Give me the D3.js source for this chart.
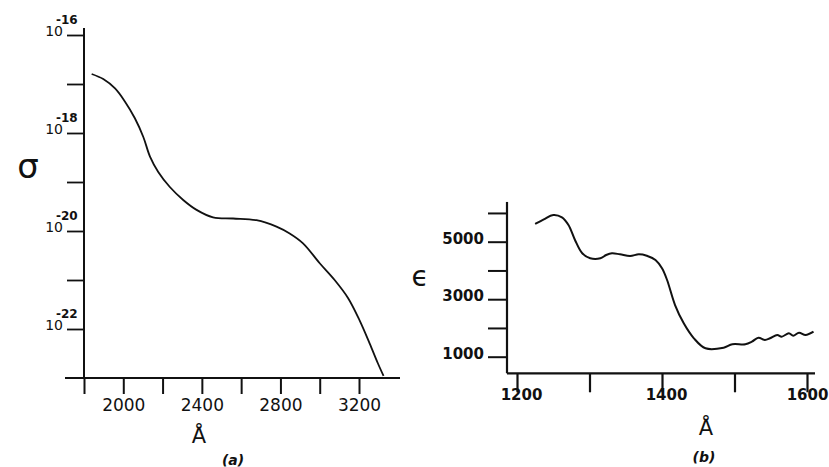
<!DOCTYPE html>
<html>
<head>
<meta charset="utf-8">
<script src="https://cdn.jsdelivr.net/npm/d3@7"></script>
<style>
  html, body { margin: 0; padding: 0; background: #fff; }
  svg { display: block; }
  text { font-family: "DejaVu Sans", sans-serif; fill: #111; }
</style>
</head>
<body>
<svg id="chart" width="829" height="467"></svg>
<script>
// (a) absorption cross section sigma (cm^2) vs wavelength (Å)
const sigmaWavelength = [1839, 1898, 1958, 2008, 2059, 2102, 2136, 2178, 2237, 2305, 2373, 2457,
                         2559, 2678, 2780, 2847, 2915, 3000, 3076, 3144, 3203, 3254, 3296, 3325];
const sigmaValues = [1.6e-17, 1.26e-17, 8.1e-18, 4.4e-18, 2.0e-18, 8.3e-19, 3.3e-19, 1.6e-19,
                     7.9e-20, 4.3e-20, 2.7e-20, 1.9e-20, 1.8e-20, 1.66e-20, 1.23e-20, 8.9e-21,
                     5.6e-21, 2.2e-21, 1.0e-21, 4.3e-22, 1.5e-22, 5.1e-23, 2.0e-23, 1.1e-23];
const sigmaTicks = [1e-16, 1e-17, 1e-18, 1e-19, 1e-20, 1e-21, 1e-22];
const sigmaTickExponents = ["-16", "", "-18", "", "-20", "", "-22"];
const lambdaTicksA = [1800, 2000, 2200, 2400, 2600, 2800, 3000, 3200];
const lambdaLabelsA = ["", "2000", "", "2400", "", "2800", "", "3200"];

// (b) molar extinction coefficient epsilon vs wavelength (Å)
const epsWavelength = [1225, 1237, 1250, 1262, 1271, 1280, 1290, 1301, 1315, 1323, 1331, 1342,
                       1356, 1368, 1379, 1391, 1400, 1407, 1418, 1430, 1444, 1460, 1485, 1497,
                       1515, 1524, 1533, 1542, 1549, 1559, 1565, 1575, 1581, 1589, 1598, 1609];
const epsValues = [5616, 5779, 5929, 5849, 5581, 5059, 4597, 4423, 4423, 4537, 4597, 4562,
                   4503, 4562, 4513, 4363, 4075, 3668, 2798, 2162, 1640, 1292, 1313, 1431,
                   1431, 1522, 1661, 1581, 1640, 1755, 1696, 1814, 1730, 1835, 1755, 1870];
const epsTicks = [1000, 2000, 3000, 4000, 5000, 6000];
const epsTickLabels = ["1000", "", "3000", "", "5000", ""];
const lambdaTicksB = [1200, 1300, 1400, 1500, 1600];
const lambdaLabelsB = ["1200", "", "1400", "", "1600"];

const svg = d3.select("#chart");
const ink = "#111";

/* ---------------- panel (a) ---------------- */
const xA = d3.scaleLinear().domain([1800, 3200]).range([84, 359]);
const yA = d3.scaleLog().domain([1e-23, 1e-16]).range([378, 35]);
const gA = svg.append("g");

// axis lines
gA.append("line").attr("x1", xA(1800) - 19).attr("x2", xA(3200) + 41)
  .attr("y1", yA(1e-23)).attr("y2", yA(1e-23))
  .attr("stroke", ink).attr("stroke-width", 2);
gA.append("line").attr("x1", xA(1800)).attr("x2", xA(1800))
  .attr("y1", yA(1e-16) - 7).attr("y2", yA(1e-23))
  .attr("stroke", ink).attr("stroke-width", 2);

// x ticks and labels
const axA = gA.append("g").attr("transform", `translate(0,${yA(1e-23)})`)
  .call(d3.axisBottom(xA).tickValues(lambdaTicksA).tickSize(16).tickPadding(4)
    .tickFormat((d, i) => lambdaLabelsA[i]));
axA.select(".domain").remove();
axA.selectAll(".tick line").attr("stroke", ink).attr("stroke-width", 2);
axA.selectAll(".tick text").attr("font-size", 17).attr("font-family", "DejaVu Sans")
  .attr("fill", ink).attr("dy", null).attr("y", 33);

// y ticks
const ayA = gA.append("g").attr("transform", `translate(${xA(1800)},0)`)
  .call(d3.axisLeft(yA).tickValues(sigmaTicks).tickSize(17).tickFormat(""));
ayA.select(".domain").remove();
ayA.selectAll(".tick line").attr("stroke", ink).attr("stroke-width", 1.8);

// power-of-ten labels
sigmaTicks.forEach((t, i) => {
  if (!sigmaTickExponents[i]) return;
  const y = yA(t);
  gA.append("text").attr("x", 63).attr("y", y + 1).attr("text-anchor", "end")
    .attr("font-size", 14).text("10");
  gA.append("text").attr("x", 56).attr("y", y - 11).attr("text-anchor", "start")
    .attr("font-size", 12).attr("font-weight", "bold").text(sigmaTickExponents[i]);
});

// curve
gA.append("path")
  .datum(sigmaWavelength.map((w, i) => [w, sigmaValues[i]]))
  .attr("fill", "none").attr("stroke", ink).attr("stroke-width", 1.8)
  .attr("d", d3.line().x(d => xA(d[0])).y(d => yA(d[1])).curve(d3.curveCatmullRom));

// axis titles
gA.append("text").attr("x", 28).attr("y", 178).attr("text-anchor", "middle")
  .attr("font-size", 34).text("σ");
gA.append("text").attr("x", 199).attr("y", 443).attr("text-anchor", "middle")
  .attr("font-size", 21).text("Å");
gA.append("text").attr("x", 233).attr("y", 465).attr("text-anchor", "middle")
  .attr("font-size", 14).attr("font-style", "italic").attr("font-weight", "bold").text("(a)");

/* ---------------- panel (b) ---------------- */
const xB = d3.scaleLinear().domain([1200, 1600]).range([517, 807]);
const yB = d3.scaleLinear().domain([1000, 5000]).range([356.7, 241.7]);
const baseB = 423;
const gB = svg.append("g");

gB.append("line").attr("x1", 507).attr("x2", xB(1600) + 8)
  .attr("y1", yB(baseB)).attr("y2", yB(baseB))
  .attr("stroke", ink).attr("stroke-width", 2.2);
gB.append("line").attr("x1", 507).attr("x2", 507)
  .attr("y1", yB(6000) - 11).attr("y2", yB(baseB))
  .attr("stroke", ink).attr("stroke-width", 2.2);

const axB = gB.append("g").attr("transform", `translate(0,${yB(baseB)})`)
  .call(d3.axisBottom(xB).tickValues(lambdaTicksB).tickSize(19).tickPadding(4)
    .tickFormat((d, i) => lambdaLabelsB[i]));
axB.select(".domain").remove();
axB.selectAll(".tick line").attr("stroke", ink).attr("stroke-width", 2.2);
axB.selectAll(".tick text").attr("font-size", 15).attr("font-weight", "bold")
  .attr("font-family", "DejaVu Sans").attr("fill", ink)
  .attr("dy", null).attr("y", 27).attr("dx", (d, i) => i === lambdaTicksB.length - 1 ? 0 : 4);

const ayB = gB.append("g").attr("transform", "translate(507,0)")
  .call(d3.axisLeft(yB).tickValues(epsTicks).tickSize(19).tickFormat(""));
ayB.select(".domain").remove();
ayB.selectAll(".tick line").attr("stroke", ink).attr("stroke-width", 2);

epsTicks.forEach((t, i) => {
  if (!epsTickLabels[i]) return;
  gB.append("text").attr("x", 484).attr("y", yB(t) + 2).attr("text-anchor", "end")
    .attr("font-size", 15).attr("font-weight", "bold").text(epsTickLabels[i]);
});

gB.append("path")
  .datum(epsWavelength.map((w, i) => [w, epsValues[i]]))
  .attr("fill", "none").attr("stroke", ink).attr("stroke-width", 2)
  .attr("d", d3.line().x(d => xB(d[0])).y(d => yB(d[1])).curve(d3.curveCatmullRom));

gB.append("text").attr("x", 420).attr("y", 286).attr("text-anchor", "middle")
  .attr("font-size", 28).text("ϵ");
gB.append("text").attr("x", 706).attr("y", 435).attr("text-anchor", "middle")
  .attr("font-size", 21).text("Å");
gB.append("text").attr("x", 704).attr("y", 462).attr("text-anchor", "middle")
  .attr("font-size", 14).attr("font-style", "italic").attr("font-weight", "bold").text("(b)");
</script>
</body>
</html>
